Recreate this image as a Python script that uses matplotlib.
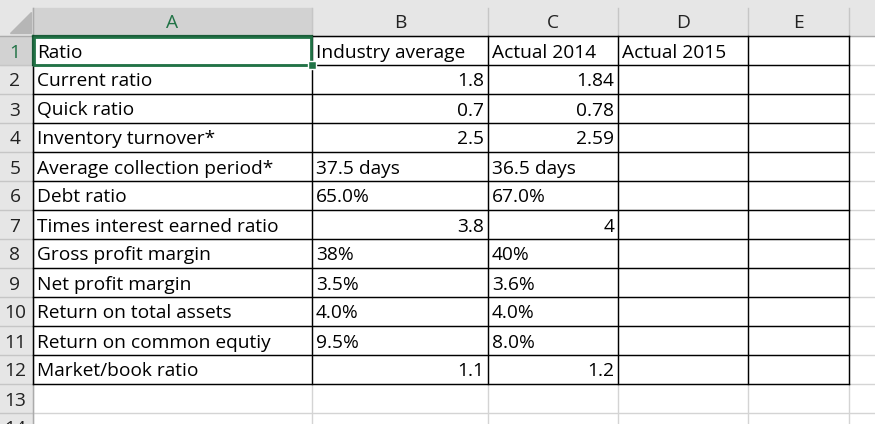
import matplotlib
matplotlib.use("Agg")
import matplotlib.pyplot as plt
from matplotlib.patches import Rectangle, Polygon

# Sheet contents
headers = ["Ratio", "Industry average", "Actual 2014", "Actual 2015"]
ratios = ["Current ratio", "Quick ratio", "Inventory turnover*",
          "Average collection period*", "Debt ratio",
          "Times interest earned ratio", "Gross profit margin",
          "Net profit margin", "Return on total assets",
          "Return on common equtiy", "Market/book ratio"]
industry_avg = [1.8, 0.7, 2.5, "37.5 days", "65.0%", 3.8, "38%", "3.5%",
                "4.0%", "9.5%", 1.1]
actual_2014 = [1.84, 0.78, 2.59, "36.5 days", "67.0%", 4, "40%", "3.6%",
               "4.0%", "8.0%", 1.2]
actual_2015 = [""] * len(ratios)
col_letters = ["A", "B", "C", "D", "E"]

# Layout in pixels
W, H = 875, 424
col_edges = [33, 312, 488, 618, 748, 849, 960]
head_top, head_bot = 8, 36
row_h = 29
n_rows = 14

FONT = "Open Sans"
FS = 13.8
GREEN = "#217346"
HEAD_BG = "#e6e6e6"
SEL_BG = "#d2d2d2"
GRID = "#d4d4d4"

fig = plt.figure(figsize=(W / 100, H / 100), dpi=100)
ax = fig.add_axes([0, 0, 1, 1])
ax.set_xlim(0, W)
ax.set_ylim(H, 0)
ax.axis("off")

def row_top(r):
    return head_bot + (r - 1) * row_h

# header band
ax.add_patch(Rectangle((0, 0), W, head_bot, color=HEAD_BG, zorder=0))
ax.add_patch(Rectangle((0, head_bot), col_edges[0], H, color=HEAD_BG, zorder=0))
ax.add_patch(Polygon([(31, 12), (31, 33), (10, 33)], closed=True,
                     color="#b6b6b6", zorder=1))

# selected column A / row 1 headers
ax.add_patch(Rectangle((col_edges[0], head_top), col_edges[1] - col_edges[0],
                       head_bot - head_top, color=SEL_BG, zorder=1))
ax.add_patch(Rectangle((0, row_top(1)), col_edges[0], row_h, color=SEL_BG, zorder=1))

# gridlines (light)
for x in col_edges:
    ax.plot([x, x], [head_bot, H], color=GRID, lw=1, zorder=2)
    ax.plot([x, x], [head_top, head_bot], color="#c6c6c6", lw=1, zorder=2)
for r in range(1, n_rows + 1):
    y = row_top(r) + row_h
    ax.plot([col_edges[0], W], [y, y], color=GRID, lw=1, zorder=2)
    ax.plot([0, col_edges[0]], [y, y], color="#c6c6c6", lw=1, zorder=2)
ax.plot([0, W], [head_bot, head_bot], color="#ababab", lw=1, zorder=2)
ax.plot([col_edges[0], col_edges[0]], [head_top, H], color="#ababab", lw=1, zorder=2)
ax.plot([col_edges[0], col_edges[1]], [head_bot - 0.5, head_bot - 0.5],
        color=GREEN, lw=1.6, zorder=3)
ax.plot([col_edges[0] - 0.5, col_edges[0] - 0.5], [row_top(1), row_top(2)],
        color=GREEN, lw=1.6, zorder=3)

# black cell borders A1:E12
n_data = len(ratios) + 1
for x in col_edges[:6]:
    ax.plot([x, x], [row_top(1), row_top(n_data + 1)], color="black", lw=1, zorder=4)
for r in range(1, n_data + 2):
    y = row_top(r)
    ax.plot([col_edges[0], col_edges[5]], [y, y], color="black", lw=1, zorder=4)

# selection box on A1
ax.add_patch(Rectangle((col_edges[0] + 1, row_top(1) + 0.5),
                       col_edges[1] - col_edges[0] - 2, row_h - 1,
                       fill=False, ec=GREEN, lw=2, zorder=5))
ax.add_patch(Rectangle((col_edges[1] - 3, row_top(2) - 3), 6, 6,
                       color=GREEN, zorder=6))
ax.add_patch(Rectangle((col_edges[1] - 4, row_top(2) - 4), 8, 8,
                       fill=False, ec="white", lw=1, zorder=6))

# column letters
for i, letter in enumerate(col_letters):
    cx = (col_edges[i] + col_edges[i + 1]) / 2
    ax.text(cx, (head_top + head_bot) / 2 + 1.5, letter, ha="center", va="center",
            fontsize=FS, family=FONT, color=GREEN if i == 0 else "#222222")

# row numbers
for r in range(1, n_rows + 1):
    cy = row_top(r) + row_h / 2 + 2
    ax.text(15, cy, str(r), ha="center", va="center", fontsize=FS, family=FONT,
            color=GREEN if r == 1 else "#222222")

def put(col, r, val):
    cy = row_top(r) + row_h / 2 + 2
    if isinstance(val, str):
        ax.text(col_edges[col] + 4, cy, val, ha="left", va="center",
                fontsize=FS, family=FONT, color="black", zorder=7)
    else:
        ax.text(col_edges[col + 1] - 4, cy, f"{val:g}", ha="right", va="center",
                fontsize=FS, family=FONT, color="black", zorder=7)

for c, h in enumerate(headers):
    put(c, 1, h)
for i in range(len(ratios)):
    put(0, i + 2, ratios[i])
    put(1, i + 2, industry_avg[i])
    put(2, i + 2, actual_2014[i])
    put(3, i + 2, actual_2015[i])

fig.savefig("out.png", dpi=100, facecolor="white")
